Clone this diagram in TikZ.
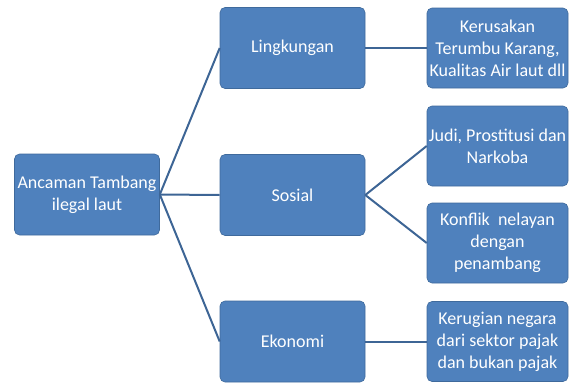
\documentclass[tikz,border=0pt]{standalone}
\usepackage{fontspec}
\setmainfont{Carlito}
\definecolor{boxblue}{HTML}{4F81BD}
\definecolor{boxedge}{HTML}{3F6A9C}
\definecolor{linkblue}{HTML}{3D6595}
\tikzset{
  box/.style={draw=boxedge, line width=0.6pt, fill=boxblue, rounded corners=5pt,
    text=white, align=center, font=\fontsize{18}{22}\selectfont, inner sep=1pt},
  midbox/.style={box, minimum width=145pt, minimum height=81pt},
  leafbox/.style={box, minimum width=141pt, minimum height=80pt},
  link/.style={draw=linkblue, line width=2pt}
}
\begin{document}
\begin{tikzpicture}[x=1pt, y=-1pt]
  \useasboundingbox (0,0) rectangle (570,383);

  % Root
  \node [midbox] (root) at (87,194.5) {Ancaman Tambang\\ilegal laut};

  % Middle boxes
  \node [midbox] (ling) at (292.5,48) {Lingkungan};
  \node [midbox] (sos) at (292.5,195) {Sosial};
  \node [midbox] (eko) at (292.5,341.5) {Ekonomi};

  % Leaf boxes
  \node [leafbox] (rusak) at (497.5,48) {Kerusakan\\Terumbu\ Karang,\\Kualitas Air laut dll};
  \node [leafbox] (judi) at (497.5,146) {Judi, Prostitusi dan\\Narkoba};
  \node [leafbox] (konf) at (497.5,243) {Konflik\ \ nelayan\\dengan\\penambang};
  \node [leafbox] (rugi) at (497.5,341.5) {Kerugian negara\\dari sektor pajak\\dan bukan pajak};

  % Links
  \draw [link] (root.east) -- (ling.west);
  \draw [link] (root.east) -- (sos.west);
  \draw [link] (root.east) -- (eko.west);
  \draw [link] (ling.east) -- (rusak.west);
  \draw [link] (sos.east) -- (judi.west);
  \draw [link] (sos.east) -- (konf.west);
  \draw [link] (eko.east) -- (rugi.west);
\end{tikzpicture}
\end{document}
